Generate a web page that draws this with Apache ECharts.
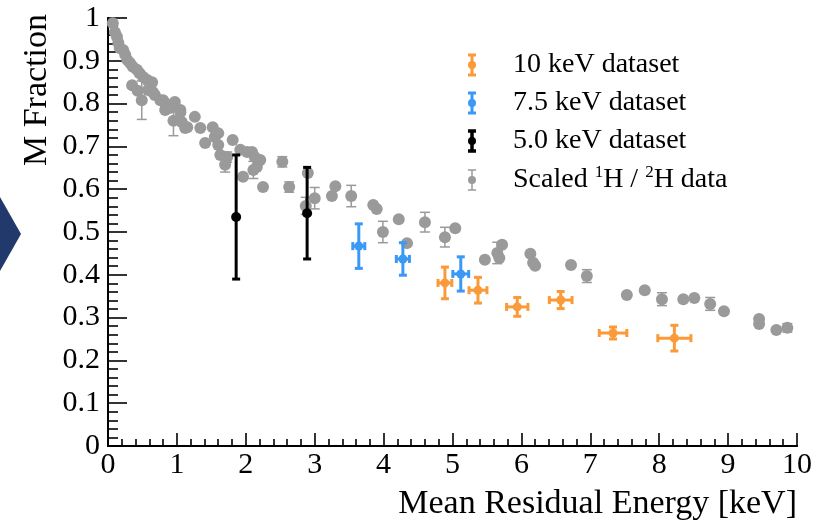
<!DOCTYPE html>
<html><head><meta charset="utf-8">
<script src="https://cdn.jsdelivr.net/npm/echarts@6/dist/echarts.min.js"></script>
<style>html,body{margin:0;padding:0;background:#fff}#c{width:827px;height:525px}</style>
</head><body><div id="c"></div>
<script>
// ---- data ----
const grayX = [0.07,0.10,0.13,0.15,0.17,0.22,0.25,0.28,0.32,0.36,0.42,0.46,0.51,0.57,0.64,0.35,0.43,0.49,0.58,0.68,0.76,0.83,0.90,0.97,1.05,1.07,1.15,0.95,0.65,0.80,0.83,1.05,1.12,1.26,1.34,1.41,1.52,1.55,1.60,1.60,1.63,1.73,1.70,1.81,1.92,1.96,2.02,2.09,2.13,2.16,2.21,2.11,2.25,2.53,2.63,2.90,2.87,3.00,3.25,3.30,3.53,3.85,3.90,3.99,4.22,4.34,4.60,4.89,5.04,5.47,5.65,5.72,5.68,6.13,6.17,6.20,6.72,6.95,7.53,7.79,8.04,8.35,8.51,8.74,8.94,9.45,9.45,9.70,9.86];
const grayY = [0.988,0.967,0.956,0.942,0.930,0.925,0.914,0.902,0.895,0.886,0.879,0.871,0.862,0.855,0.850,0.843,0.830,0.808,0.832,0.820,0.808,0.801,0.790,0.804,0.780,0.757,0.745,0.760,0.827,0.808,0.785,0.785,0.743,0.769,0.743,0.708,0.745,0.722,0.731,0.703,0.680,0.675,0.657,0.715,0.692,0.629,0.687,0.687,0.675,0.652,0.668,0.645,0.605,0.664,0.605,0.638,0.561,0.579,0.584,0.607,0.584,0.563,0.554,0.500,0.530,0.474,0.523,0.488,0.509,0.435,0.451,0.470,0.439,0.449,0.428,0.421,0.423,0.397,0.353,0.364,0.343,0.343,0.346,0.332,0.315,0.297,0.285,0.271,0.276];
const grayErr = [0,0,0,0,0,0,0,0,0,0,0,0,0,0,0,0,0,0.045,0,0,0,0,0,0,0,0,0,0.035,0,0,0,0,0,0,0,0,0,0,0,0,0,0.012,0.017,0,0,0,0,0,0,0,0,0.02,0,0.012,0.012,0,0.02,0.025,0,0,0.025,0,0,0.025,0,0,0.023,0.023,0,0,0.025,0,0,0,0,0,0,0.015,0,0,0.015,0,0,0.015,0,0,0,0,0.01];

const orangeX = [4.89,5.37,5.94,6.57,7.33,8.22];
const orangeY = [0.381,0.364,0.325,0.341,0.264,0.252];
const orangeXErr = [0.10,0.13,0.155,0.165,0.20,0.24];
const orangeYErr = [0.037,0.030,0.022,0.020,0.014,0.030];

const blueX = [3.64,4.28,5.12];
const blueY = [0.467,0.437,0.402];
const blueXErr = [0.087,0.095,0.115];
const blueYErr = [0.052,0.038,0.040];

const blackX = [1.86,2.89];
const blackY = [0.535,0.544];
const blackXErr = [0,0];
const blackYErr = [0.145,0.107];

const legendNames = ['10 keV dataset','7.5 keV dataset','5.0 keV dataset','Scaled {sup|1}H / {sup|2}H data'];

// ---- styles ----
const GRAY='#9a9a9a', ORANGE='#fa9a38', BLUE='#3a99f5', BLACK='#000';
const FONT='Liberation Serif';

function pack(xs, ys, xe, ye){ return xs.map((x,i)=>[x, ys[i], xe ? xe[i] : 0, ye ? ye[i] : 0]); }

function errRender(color, r, lw, cap){
  return function(params, api){
    const x=api.value(0), y=api.value(1), xe=api.value(2), ye=api.value(3);
    const c=api.coord([x,y]);
    const ch=[];
    const st={stroke:color, lineWidth:lw};
    if(ye>0){
      const t=api.coord([x,y+ye])[1], b=api.coord([x,y-ye])[1];
      ch.push({type:'line',shape:{x1:c[0],y1:t,x2:c[0],y2:b},style:st});
      ch.push({type:'line',shape:{x1:c[0]-cap,y1:t,x2:c[0]+cap,y2:t},style:st});
      ch.push({type:'line',shape:{x1:c[0]-cap,y1:b,x2:c[0]+cap,y2:b},style:st});
    }
    if(xe>0){
      const l=api.coord([x-xe,y])[0], rr=api.coord([x+xe,y])[0];
      ch.push({type:'line',shape:{x1:l,y1:c[1],x2:rr,y2:c[1]},style:st});
      ch.push({type:'line',shape:{x1:l,y1:c[1]-cap,x2:l,y2:c[1]+cap},style:st});
      ch.push({type:'line',shape:{x1:rr,y1:c[1]-cap,x2:rr,y2:c[1]+cap},style:st});
    }
    ch.push({type:'circle',shape:{cx:c[0],cy:c[1],r:r},style:{fill:color}});
    return {type:'group',children:ch};
  };
}

function legendIcon(y, color, lw){
  const x=472;
  return {type:'group', children:[
    {type:'line',shape:{x1:x,y1:y-10,x2:x,y2:y+10},style:{stroke:color,lineWidth:lw}},
    {type:'line',shape:{x1:x-4,y1:y-10,x2:x+4,y2:y-10},style:{stroke:color,lineWidth:lw}},
    {type:'line',shape:{x1:x-4,y1:y+10,x2:x+4,y2:y+10},style:{stroke:color,lineWidth:lw}},
    {type:'circle',shape:{cx:x,cy:y,r:4},style:{fill:color}}
  ]};
}

const legRows=[65,103,141,180];
const legColors=[ORANGE,BLUE,BLACK,GRAY];
const legLW=[3,3,3.5,1.5];
const graphics=[
  {type:'polygon',shape:{points:[[0,197],[21,234],[0,271]]},style:{fill:'#213a6b'}},
  {type:'text',x:797,y:504,style:{text:'Mean Residual Energy [keV]',font:'34px "Liberation Serif"',fill:'#000',textAlign:'right',textVerticalAlign:'middle'}},
  {type:'text',x:37,y:90,rotation:Math.PI/2,style:{text:'M Fraction',font:'34px "Liberation Serif"',fill:'#000',textAlign:'center',textVerticalAlign:'middle'}}
];
legRows.forEach((y,i)=>{
  graphics.push(legendIcon(y, legColors[i], legLW[i]));
  graphics.push({type:'text',x:513,y:y,style:{text:legendNames[i],fontFamily:FONT,fontSize:28,fill:'#000',verticalAlign:'middle',align:'left',
    rich:{sup:{fontFamily:FONT,fontSize:17,verticalAlign:'top',padding:[0,0,14,0]}}}});
});

const chart=echarts.init(document.getElementById('c'));
chart.setOption({
  animation:false,
  backgroundColor:'#fff',
  grid:{left:108,top:18,width:689,height:428},
  xAxis:[{type:'value',min:0,max:10,interval:1,
    axisLine:{show:true,lineStyle:{color:'#000',width:2}},
    axisTick:{show:true,inside:true,length:13,lineStyle:{color:'#000',width:1.6}},
    minorTick:{show:true,splitNumber:5,length:7,lineStyle:{color:'#000',width:1.6}},
    splitLine:{show:false},
    axisLabel:{color:'#000',fontFamily:FONT,fontSize:30,margin:4}},
    {type:'value',min:0,max:10,position:'top',axisLine:{show:true,lineStyle:{color:'#000',width:2}},
    axisTick:{show:false},axisLabel:{show:false},splitLine:{show:false}}],
  yAxis:[{type:'value',min:0,max:1,interval:0.1,
    axisLine:{show:true,lineStyle:{color:'#000',width:2}},
    axisTick:{show:true,inside:true,length:19,lineStyle:{color:'#000',width:1.6}},
    minorTick:{show:true,splitNumber:5,length:10,lineStyle:{color:'#000',width:1.6}},
    splitLine:{show:false},
    axisLabel:{color:'#000',fontFamily:FONT,fontSize:30,margin:8,
      formatter:v=>{ if(Math.abs(v)<1e-9) return '0'; if(Math.abs(v-1)<1e-9) return '1'; return v.toFixed(1);} }},
    {type:'value',min:0,max:1,position:'right',axisLine:{show:true,lineStyle:{color:'#000',width:2}},
    axisTick:{show:false},axisLabel:{show:false},splitLine:{show:false}}],
  graphic:graphics,
  series:[
    {type:'custom',name:'gray',renderItem:errRender(GRAY,6,1.5,5),encode:{x:0,y:1},data:pack(grayX,grayY,null,grayErr),z:2},
    {type:'custom',name:'black',renderItem:errRender(BLACK,5,3,4),encode:{x:0,y:1},data:pack(blackX,blackY,blackXErr,blackYErr),z:3},
    {type:'custom',name:'blue',renderItem:errRender(BLUE,4.5,3,4),encode:{x:0,y:1},data:pack(blueX,blueY,blueXErr,blueYErr),z:4},
    {type:'custom',name:'orange',renderItem:errRender(ORANGE,4.5,3,4),encode:{x:0,y:1},data:pack(orangeX,orangeY,orangeXErr,orangeYErr),z:5}
  ]
});
</script></body></html>
